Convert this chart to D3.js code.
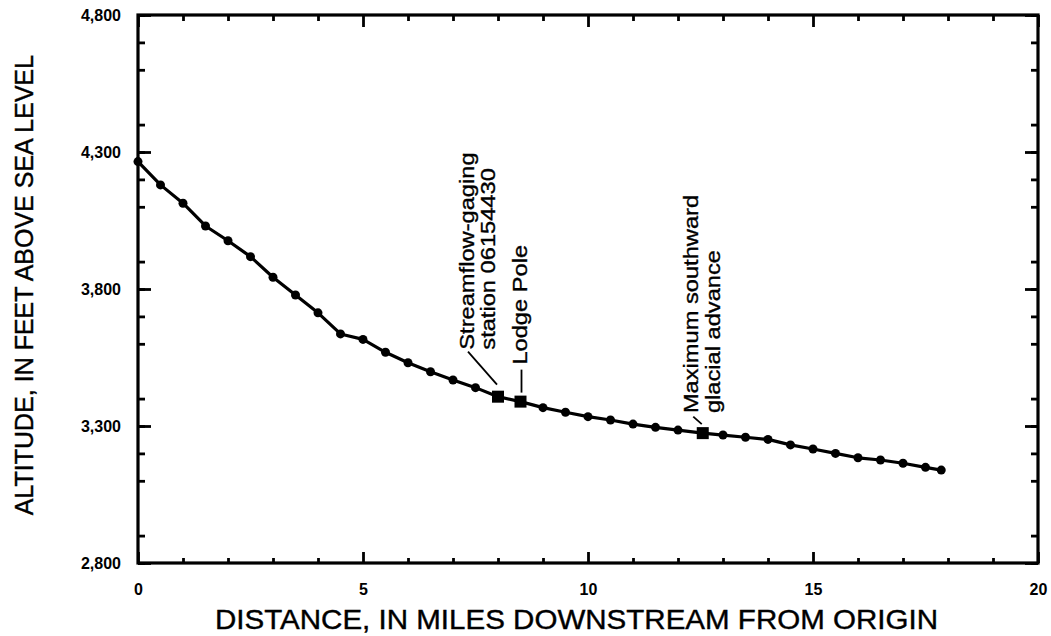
<!DOCTYPE html>
<html>
<head>
<meta charset="utf-8">
<script src="https://cdn.jsdelivr.net/npm/d3@7"></script>
<style>
  html, body { margin: 0; padding: 0; background: #fff; }
  svg { display: block; }
  text { font-family: "Liberation Sans", Arial, Helvetica, sans-serif; fill: #000; }
</style>
</head>
<body>
<svg id="chart" width="1051" height="636"></svg>
<script>
// Stream-profile points (distance in miles, altitude in feet)
const profileMiles = [0, 0.5, 1, 1.5, 2, 2.5, 3, 3.5, 4, 4.5, 5, 5.5, 6, 6.5, 7, 7.5,
                      9, 9.5, 10, 10.5, 11, 11.5, 12, 13, 13.5, 14, 14.5, 15, 15.5,
                      16, 16.5, 17, 17.5, 17.85];
const profileAltitude = [4265, 4180, 4113, 4030, 3976, 3918, 3843, 3778, 3713, 3636, 3616,
                         3569, 3531, 3498, 3468, 3440,
                         3367, 3350, 3334, 3322, 3307, 3295, 3285, 3267, 3259, 3251, 3231,
                         3216, 3200, 3184, 3176, 3164, 3149, 3139];

// Named sites along the profile
const siteNames = ["Streamflow-gaging station 06154430", "Lodge Pole", "Maximum southward glacial advance"];
const siteMiles = [8.0, 8.5, 12.55];
const siteAltitude = [3407, 3389, 3274];

// Axis ticks and titles
const xMajorTicks = [0, 5, 10, 15, 20];
const yMajorTicks = [2800, 3300, 3800, 4300, 4800];
const xTitle = "DISTANCE, IN MILES DOWNSTREAM FROM ORIGIN";
const yTitle = "ALTITUDE, IN FEET ABOVE SEA LEVEL";

const svg = d3.select("#chart");
const plotLeft = 138, plotRight = 1038, plotTop = 15, plotBottom = 563;

const x = d3.scaleLinear().domain([0, 20]).range([plotLeft, plotRight]);
const y = d3.scaleLinear().domain([2800, 4800]).range([plotBottom, plotTop]);

const xMinor = d3.range(0, 21, 1).filter(v => v % 5 !== 0);
const yMinor = d3.range(2800, 4801, 100).filter(v => v % 500 !== 0);

function styleAxis(g) {
  g.select(".domain").remove();
  g.selectAll(".tick line").attr("stroke", "#000").attr("stroke-width", 2.8);
  g.selectAll(".tick text")
    .style("font-family", '"Liberation Sans", Arial, sans-serif')
    .style("font-size", "16px").style("font-weight", "bold").attr("fill", "#000");
}

// Bottom axis: inward ticks, labelled at whole five-mile steps
svg.append("g").attr("transform", `translate(0,${plotBottom})`)
  .call(d3.axisBottom(x).tickValues(xMinor).tickSize(-5).tickFormat(""))
  .call(styleAxis);
svg.append("g").attr("transform", `translate(0,${plotBottom})`)
  .call(d3.axisBottom(x).tickValues(xMajorTicks).tickSize(-11).tickPadding(21).tickFormat(d3.format("d")))
  .call(styleAxis);

// Top axis: ticks only
svg.append("g").attr("transform", `translate(0,${plotTop})`)
  .call(d3.axisTop(x).tickValues(xMinor).tickSize(-6).tickFormat(""))
  .call(styleAxis);
svg.append("g").attr("transform", `translate(0,${plotTop})`)
  .call(d3.axisTop(x).tickValues(xMajorTicks).tickSize(-12).tickFormat(""))
  .call(styleAxis);

// Left axis with comma-formatted altitude labels
svg.append("g").attr("transform", `translate(${plotLeft},0)`)
  .call(d3.axisLeft(y).tickValues(yMinor).tickSize(-7).tickFormat(""))
  .call(styleAxis);
svg.append("g").attr("transform", `translate(${plotLeft},0)`)
  .call(d3.axisLeft(y).tickValues(yMajorTicks).tickSize(-13).tickPadding(17).tickFormat(d3.format(",")))
  .call(styleAxis);

// Right axis: ticks only
svg.append("g").attr("transform", `translate(${plotRight},0)`)
  .call(d3.axisRight(y).tickValues(yMinor).tickSize(-7).tickFormat(""))
  .call(styleAxis);
svg.append("g").attr("transform", `translate(${plotRight},0)`)
  .call(d3.axisRight(y).tickValues(yMajorTicks).tickSize(-13).tickFormat(""))
  .call(styleAxis);

// Plot frame
svg.append("rect")
  .attr("x", plotLeft).attr("y", plotTop)
  .attr("width", plotRight - plotLeft).attr("height", plotBottom - plotTop)
  .attr("fill", "none").attr("stroke", "#000").attr("stroke-width", 3.2);

// Profile line through all points, including the named sites
const profile = profileMiles.map((m, i) => ({ m, a: profileAltitude[i] }))
  .concat(siteMiles.map((m, i) => ({ m, a: siteAltitude[i] })))
  .sort((p, q) => p.m - q.m);

svg.append("path")
  .datum(profile)
  .attr("fill", "none").attr("stroke", "#000").attr("stroke-width", 3.2)
  .attr("stroke-linejoin", "round")
  .attr("d", d3.line().x(d => x(d.m)).y(d => y(d.a)));

svg.append("g").selectAll("circle")
  .data(profileMiles.map((m, i) => ({ m, a: profileAltitude[i] })))
  .join("circle")
  .attr("cx", d => x(d.m)).attr("cy", d => y(d.a)).attr("r", 4.5).attr("fill", "#000");

const sq = 12;
svg.append("g").selectAll("rect")
  .data(siteMiles.map((m, i) => ({ m, a: siteAltitude[i] })))
  .join("rect")
  .attr("x", d => x(d.m) - sq / 2).attr("y", d => y(d.a) - sq / 2)
  .attr("width", sq).attr("height", sq).attr("fill", "#000");

// Site labels: vertical text with short leader lines
const labelLayout = [
  { lines: ["Streamflow-gaging", "station 06154430"], bx: [-24, -3], by: -47, leader: [-30, -45, -1, -12] },
  { lines: ["Lodge Pole"], bx: [6.5], by: -37, leader: [1, -32, 1, -9] },
  { lines: ["Maximum southward", "glacial advance"], bx: [-5, 17], by: -20, leader: [-9.5, -16.5, -1, -9] }
];

labelLayout.forEach((lab, i) => {
  const sx = x(siteMiles[i]), sy = y(siteAltitude[i]);
  const [x1, y1, x2, y2] = lab.leader;
  svg.append("line")
    .attr("x1", sx + x1).attr("y1", sy + y1).attr("x2", sx + x2).attr("y2", sy + y2)
    .attr("stroke", "#000").attr("stroke-width", 1.8);
  lab.lines.forEach((t, j) => {
    svg.append("text")
      .attr("transform", `translate(${sx + lab.bx[j]},${sy + lab.by}) rotate(-90) scale(1.155,1)`)
      .attr("text-anchor", "start")
      .style("font-size", "20.5px")
      .style("stroke", "#000").style("stroke-width", 0.35)
      .text(t);
  });
});

// Axis titles
svg.append("text")
  .attr("x", 576.5).attr("y", 629)
  .attr("text-anchor", "middle")
  .attr("textLength", 723).attr("lengthAdjust", "spacingAndGlyphs")
  .style("font-size", "28px")
  .style("stroke", "#000").style("stroke-width", 0.4)
  .text(xTitle);

svg.append("text")
  .attr("transform", "translate(33,285) rotate(-90)")
  .attr("text-anchor", "middle")
  .style("font-size", "25px")
  .style("stroke", "#000").style("stroke-width", 0.4)
  .text(yTitle);
</script>
</body>
</html>
